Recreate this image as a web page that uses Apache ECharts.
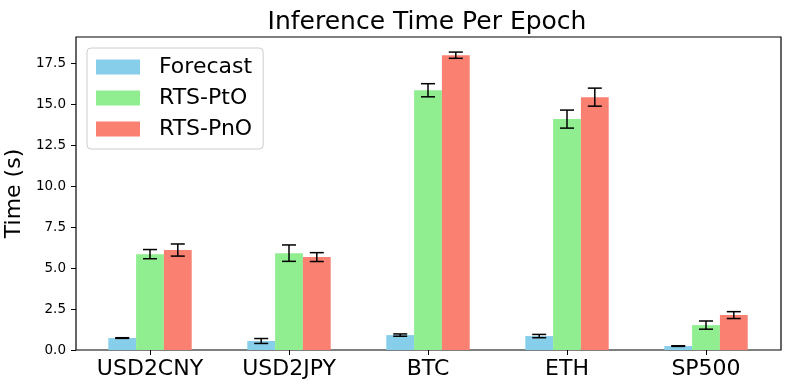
<!DOCTYPE html>
<html>
<head>
<meta charset="utf-8">
<script src="https://cdn.jsdelivr.net/npm/echarts@6/dist/echarts.min.js"></script>
<style>
html,body{margin:0;padding:0;background:#fff;}
#chart{width:790px;height:390px;}
</style>
</head>
<body>
<div id="chart"></div>
<script>
const categories = ['USD2CNY', 'USD2JPY', 'BTC', 'ETH', 'SP500'];
const seriesNames = ['Forecast', 'RTS-PtO', 'RTS-PnO'];
const forecast = [0.73, 0.55, 0.91, 0.85, 0.24];
const forecastErr = [0.02, 0.15, 0.07, 0.10, 0.02];
const pto = [5.85, 5.91, 15.85, 14.09, 1.52];
const ptoErr = [0.28, 0.50, 0.40, 0.55, 0.25];
const pno = [6.10, 5.67, 17.99, 15.43, 2.13];
const pnoErr = [0.37, 0.27, 0.19, 0.55, 0.21];
const yTicks = [0, 2.5, 5, 7.5, 10, 12.5, 15, 17.5];
const colors = ['#87CEEB', '#90EE90', '#FA8072'];

const values = [forecast, pto, pno];
const errs = [forecastErr, ptoErr, pnoErr];
const font = 'DejaVu Sans';
const barFrac = 0.2;

const chart = echarts.init(document.getElementById('chart'), null, {renderer: 'canvas'});

const barSeries = values.map((vals, i) => ({
  name: seriesNames[i],
  type: 'bar',
  xAxisIndex: 1,
  yAxisIndex: 1,
  data: vals,
  barWidth: (barFrac * 100) + '%',
  barGap: '0%',
  itemStyle: {color: colors[i]},
  emphasis: {disabled: true},
  z: 2
}));

const errSeries = values.map((vals, i) => ({
  name: seriesNames[i] + ' err',
  type: 'custom',
  xAxisIndex: 1,
  yAxisIndex: 1,
  data: vals.map((v, j) => [j, v, errs[i][j]]),
  z: 5,
  silent: true,
  renderItem: function (params, api) {
    const x = api.value(0), v = api.value(1), e = api.value(2);
    const unit = api.size([1, 0])[0];
    const off = (i - 1) * barFrac * unit;
    const top = api.coord([x, v + e]);
    const bot = api.coord([x, v - e]);
    const cx = top[0] + off;
    const cap = 7;
    const style = {stroke: '#000', lineWidth: 1.5, fill: null};
    return {
      type: 'group',
      children: [
        {type: 'line', shape: {x1: cx, y1: top[1], x2: cx, y2: bot[1]}, style: style},
        {type: 'line', shape: {x1: cx - cap, y1: top[1], x2: cx + cap, y2: top[1]}, style: style},
        {type: 'line', shape: {x1: cx - cap, y1: bot[1], x2: cx + cap, y2: bot[1]}, style: style}
      ]
    };
  }
}));

const option = {
  animation: false,
  backgroundColor: '#fff',
  title: {
    text: 'Inference Time Per Epoch',
    left: 422,
    textAlign: 'center',
    top: 5,
    textStyle: {fontFamily: font, fontSize: 25, fontWeight: 'normal', color: '#000'}
  },
  legend: {
    data: seriesNames,
    orient: 'vertical',
    left: 87,
    top: 48,
    itemWidth: 44,
    itemHeight: 15,
    itemGap: 9,
    padding: [8, 11, 9, 9],
    backgroundColor: 'rgba(255,255,255,0.8)',
    borderColor: '#cccccc',
    borderWidth: 1,
    borderRadius: 4,
    icon: 'rect',
    textStyle: {fontFamily: font, fontSize: 22, color: '#000', padding: [0, 0, 0, 14]}
  },
  grid: [
    {left: 76, right: 9, top: 37, bottom: 40, containLabel: false, outerBoundsMode: 'none', show: true, borderColor: '#000', borderWidth: 1.2, backgroundColor: 'transparent'},
    {left: 80.5, right: 14.5, top: 37, bottom: 40, containLabel: false, outerBoundsMode: 'none', show: false}
  ],
  xAxis: [
    {gridIndex: 0, type: 'value', min: 0, max: 1, show: false},
    {
      gridIndex: 1,
      type: 'category',
      data: categories,
      boundaryGap: true,
      axisLine: {show: false},
      axisTick: {show: true, alignWithLabel: true, length: 5, lineStyle: {color: '#000'}},
      axisLabel: {fontFamily: font, fontSize: 22, color: '#000', margin: 8, interval: 0}
    }
  ],
  yAxis: [
    {gridIndex: 0, type: 'value', min: 0, max: 1, show: false},
    {
      gridIndex: 1,
      type: 'value',
      min: 0,
      max: 19.1,
      offset: 4.5,
      name: 'Time (s)',
      nameLocation: 'middle',
      nameGap: 44,
      nameTextStyle: {fontFamily: font, fontSize: 22, color: '#000'},
      splitLine: {show: false},
      axisLine: {show: false, onZero: false},
      axisTick: {show: true, length: 5, lineStyle: {color: '#000'}, customValues: yTicks},
      axisLabel: {
        customValues: yTicks,
        formatter: v => v.toFixed(1),
        fontFamily: font, fontSize: 13.5, color: '#000', margin: 10
      }
    }
  ],
  series: barSeries.concat(errSeries)
};

chart.setOption(option);
</script>
</body>
</html>
